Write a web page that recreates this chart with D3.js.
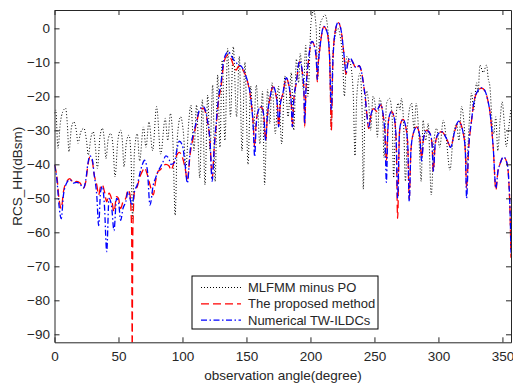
<!DOCTYPE html>
<html>
<head>
<meta charset="utf-8">
<script src="https://cdn.jsdelivr.net/npm/d3@7/dist/d3.min.js"></script>
<style>
  body { margin: 0; background: #fff; }
  text { font-family: "Liberation Sans", Arial, sans-serif; fill: #262626; }
</style>
</head>
<body>
<script>
const anglesRB = [
  0, 2, 3.5, 5.3, 7, 9.5, 12, 15, 17.3, 20,
  22.5, 24.5, 26, 27.7, 29.5, 31, 33, 34.5, 36, 37.4,
  39, 40.8, 42.6, 44.5, 46.5, 48.5, 50, 51.7, 53.5, 55.7,
  57.5, 59, 60.3, 60.7, 61.2, 62.5, 64.7, 66.8, 68.7, 70.3,
  72.5, 74.6, 77.2, 79, 81, 82.4, 84.5, 87, 89.5, 91,
  93.6, 96, 97.5, 100, 102, 103.8, 106, 109.2, 111.5, 113.2,
  116.3, 118.5, 119.7, 121.5, 123.2, 124.8, 126.5, 128.3, 130.1, 132,
  134, 135.8, 138, 140.5, 142, 143.4, 145.5, 147.3, 149.5, 151.2,
  153.8, 155.3, 156.4, 157.5, 159, 161.6, 163.5, 165, 166.5, 168.1,
  170.7, 173.3, 174.4, 175.1, 176.3, 178.5, 181.1, 183.7, 185, 185.8,
  187, 188.9, 191.5, 194.1, 195, 195.4, 196.5, 198, 201.2, 203.8,
  204.7, 205.3, 206.2, 207.2, 210.5, 213.2, 215, 216.3, 217.5, 219.1,
  221.7, 224.3, 226, 227.8, 229.3, 230.9, 233.5, 235.5, 238, 240.5,
  241.3, 243, 244, 245.5, 247.5, 249.5, 252, 254.8, 257, 258.3,
  259.3, 260.5, 261.5, 263.4, 265.5, 267, 268.1, 269.5, 270.5, 272.3,
  274.5, 276, 277.2, 278.5, 280.3, 283, 285.3, 286.9, 288.5, 290.8,
  293.5, 295, 296, 297.5, 299.9, 302.5, 306.4, 309.5, 312.9, 315.8,
  319.4, 321, 322, 323.5, 325.9, 327.2, 329.8, 333.7, 336.5, 338.5,
  340.2, 342.8, 344.9, 346.5, 348, 350.9, 353.8, 355, 356, 356.7
];

const proposed = [
  -40.2, -44, -50, -53, -48, -45.1, -44.2, -45.5, -45, -45.5,
  -47, -45, -40.5, -37.8, -39, -43, -46, -49, -46.5, -46,
  -48, -51, -48.5, -50, -54, -49.5, -50, -53, -51, -50,
  -47.5, -49, -60, -95, -60, -48, -46.5, -43.6, -42, -41,
  -43, -46, -49, -45, -42, -41.7, -40.7, -40, -40.5, -41.7,
  -39.2, -37, -36.5, -38, -41, -44.6, -37, -30.8, -27, -24.3,
  -23.5, -25.5, -27.9, -33, -44.3, -35, -28, -21, -17.2, -11,
  -8.3, -7.9, -9, -11.5, -12.3, -11.3, -11, -12.3, -14, -16.2,
  -22, -28, -35, -28, -24.5, -23.1, -25.5, -32.9, -25, -21.1,
  -17.2, -20.1, -24, -28.9, -23, -19.1, -14.7, -18.1, -22, -28.9,
  -21, -16.2, -9.8, -14.2, -20, -29, -18, -11.3, -3.9, -6.4,
  -10, -15.7, -10, -6.4, 0.5, -1.5, -9.3, -30, -10, -1.5,
  1.7, -1.5, -7, -13.5, -10, -8.8, -10.3, -11.8, -11, -14,
  -16, -21, -25, -29.5, -25, -23.6, -24.5, -22.5, -26, -31,
  -39, -29, -26, -24.5, -26.5, -33, -55.9, -31, -28, -26.8,
  -29, -34, -50, -36, -31, -29, -31.5, -38, -32, -30,
  -31, -34, -42, -34, -31, -30.4, -32.5, -34.8, -30, -27.3,
  -30.9, -36, -47, -36, -27, -23, -19, -17.6, -18.5, -21,
  -24.5, -35, -47.6, -42, -40, -37.8, -40, -45, -55, -67.5
];

const numerical = [
  -40.2, -45, -52, -56, -49, -45.5, -44.5, -45.5, -45.3, -45.8,
  -47, -44.5, -40, -37.5, -38.5, -43, -49, -58, -48, -46.5,
  -52, -65.7, -50, -52, -59.5, -50, -51, -56.5, -53, -51,
  -48, -50, -52, -51.5, -51, -48, -46, -42.5, -40, -38.8,
  -41.5, -52, -46, -44, -42, -41, -39.5, -37.5, -38.5, -40,
  -39.5, -35, -33.2, -34.5, -40, -45.5, -36, -30, -26.5, -24,
  -23, -25, -27.5, -33, -45, -35, -27, -20, -16, -10,
  -7.5, -6.9, -8, -9.5, -10, -10.8, -11, -12, -14, -16,
  -22, -29, -37.8, -29, -24.5, -23, -25.5, -33, -25, -21,
  -17, -20, -24, -29, -23, -19, -14.5, -18, -22, -29,
  -21, -16, -9.6, -14, -20, -28, -18, -11, -3.8, -6.3,
  -10, -15, -10, -6.3, 0.6, -1.4, -9, -24, -10, -1.5,
  1.8, -1.4, -7, -13, -10, -8.7, -10.3, -11.5, -11, -14,
  -16, -21, -25, -29, -25, -23.6, -24, -22.3, -26, -32,
  -45.3, -30, -26, -24.5, -26.5, -33, -50, -31, -28, -26.8,
  -29, -34, -51, -36, -31, -29, -31.5, -39, -32, -30,
  -31, -34, -42, -34, -31, -30.4, -32.5, -35, -30, -27.3,
  -30.9, -36, -50, -36, -27, -23, -19, -17.5, -18.5, -21,
  -24.5, -35, -47, -42, -40, -37.8, -40, -45, -54, -66
];

// MLFMM minus PO reference curve
const anglesML = [
  0, 1, 2.7, 4.5, 6.5, 8.7, 10, 11.3, 13.3, 15.2,
  17, 18.4, 20.5, 23, 25, 26.4, 28.5, 30.3, 32, 33.5,
  35.5, 37.4, 39, 40.2, 42, 43.9, 45.8, 47.3, 49.5, 51.7,
  53, 54.3, 56.2, 58.2, 59.8, 61, 62.5, 64.7, 66.5, 69.5,
  71.5, 73.8, 76.7, 79.8, 83, 86.5, 88.5, 90.5, 92.5, 94.3,
  96, 98.5, 100.8, 102.7, 104.8, 106.6, 109, 111, 113.5, 115.5,
  117.6, 119.7, 121.5, 123.6, 125.5, 127.5, 129.3, 131, 133.2, 135.3,
  137.5, 139.7, 142.3, 144.4, 146.5, 148.8, 151.2, 153.3, 155.5, 157.7,
  160.5, 162.5, 164.2, 166.5, 168.2, 170, 172.5, 175, 177.5, 180,
  182.5, 185, 187, 189, 190.8, 192, 194.5, 196.3, 198, 200.5,
  202.5, 204.5, 205.5, 207.5, 209.5, 211.3, 213.5, 215, 216.3, 217.5,
  219.5, 221.5, 223.5, 225, 226.5, 228.3, 230.5, 232, 233.5, 234.8,
  236.2, 238.7, 240.2, 241.3, 242.5, 243.9, 245.5, 247, 248.9, 251,
  252.3, 254, 256.3, 257.5, 259.5, 261.9, 263.8, 265, 266.5, 268.5,
  270, 271, 272.8, 274.2, 276, 279, 281, 282.6, 284.5, 286.5,
  288, 290, 292, 294.4, 296.5, 298.6, 301, 303.8, 306, 309,
  311.5, 314.2, 316, 318.1, 320, 322, 324, 325.9, 327.5, 329.8,
  331, 332.4, 335, 337.6, 339, 340.2, 342, 343.3, 344.8, 346.4,
  348.2, 349.8, 351.5, 353, 355, 356.7
];

const mlfmm = [
  -25, -24, -35.3, -28, -24.5, -23.5, -28, -36.3, -29, -27.5,
  -30, -33.8, -30.5, -29.4, -33, -37.3, -32, -30.4, -35, -41.2,
  -32, -29.4, -33, -38.3, -32.5, -30.9, -35, -43.7, -33, -29.9,
  -33, -40.7, -33.5, -31.4, -38, -56, -36, -31, -39, -29,
  -35, -27.5, -36, -23, -37, -26.5, -33, -25, -33, -55,
  -32, -26, -31, -41, -28, -22.6, -36, -22.5, -44, -21,
  -46, -19.6, -36, -16.7, -45, -13.7, -35, -9.3, -33, -5.9,
  -26, -5.4, -26, -8.3, -36, -10, -40, -17, -30, -16.7,
  -34, -18.5, -46, -18, -28, -16, -31, -17, -34, -14,
  -26, -13, -30, -9, -16, -7.4, -18, -5, -20, 2,
  5.2, 0, -15, 1, 3, 4, 0, -8, -30, -8,
  -2, 0, -3, -8, -20, -8.3, -9.5, -12, -20, -37.5,
  -20, -13.2, -22, -47.3, -25, -18.4, -22, -30, -20, -24,
  -32, -20.6, -25, -38, -22, -20.6, -26, -44, -28, -22,
  -24, -20.6, -28, -45, -28, -22, -30, -22, -30, -45,
  -27, -33, -28, -49, -33, -29.4, -35, -27, -32, -41.7,
  -32, -28, -33, -23, -28, -40, -28, -19, -24, -16,
  -19, -10.8, -13, -10.8, -15, -17, -28, -31, -26, -36,
  -27, -21.6, -28, -34.8, -29, -23.5
];

const xTicks = [0, 50, 100, 150, 200, 250, 300, 350];
const yTicks = [-90, -80, -70, -60, -50, -40, -30, -20, -10, 0];
const legendNames = ["MLFMM minus PO", "The proposed method", "Numerical TW-ILDCs"];

const width = 513, height = 384;
const plotLeft = 54.5, plotRight = 511, plotTop = 10, plotBottom = 342.3;
const axisColor = "#262626";

const svg = d3.select("body").append("svg")
  .attr("width", width)
  .attr("height", height);

const x = d3.scaleLinear().domain([0, 356.7]).range([plotLeft, plotRight]);
const y = d3.scaleLinear().domain([-92.35, 5.4]).range([plotBottom, plotTop]);

svg.append("defs").append("clipPath").attr("id", "plotclip")
  .append("rect")
  .attr("x", plotLeft).attr("y", plotTop)
  .attr("width", plotRight - plotLeft).attr("height", plotBottom - plotTop);

const plot = svg.append("g").attr("clip-path", "url(#plotclip)");

const line = d3.line()
  .x(d => x(d[0]))
  .y(d => y(d[1]))
  .curve(d3.curveMonotoneX);

const series = [
  { name: legendNames[0], pts: d3.zip(anglesML, mlfmm), color: "#000", dash: "1,2", w: 1 },
  { name: legendNames[1], pts: d3.zip(anglesRB, proposed), color: "#ff0000", dash: "8,4", w: 1.3 },
  { name: legendNames[2], pts: d3.zip(anglesRB, numerical), color: "#0000ff", dash: "6,2.5,1.5,2.5", w: 1.3 }
];

plot.selectAll("path.series")
  .data(series)
  .join("path")
  .attr("class", "series")
  .attr("d", d => line(d.pts))
  .attr("fill", "none")
  .attr("stroke", d => d.color)
  .attr("stroke-width", d => d.w)
  .attr("stroke-dasharray", d => d.dash);

// axes, ticks pointing inward like MATLAB
function styleAxis(g) {
  g.selectAll("path").attr("stroke", axisColor);
  g.selectAll("line").attr("stroke", axisColor);
  g.selectAll("text").style("font-size", "13.5px").attr("fill", axisColor);
}

svg.append("g")
  .attr("transform", `translate(0,${plotBottom})`)
  .call(d3.axisBottom(x).tickValues(xTicks).tickSizeInner(-5).tickSizeOuter(0).tickPadding(9))
  .call(styleAxis);

svg.append("g")
  .attr("transform", `translate(0,${plotTop})`)
  .call(d3.axisTop(x).tickValues(xTicks).tickSizeInner(-5).tickSizeOuter(0).tickFormat(""))
  .call(styleAxis);

svg.append("g")
  .attr("transform", `translate(${plotLeft},0)`)
  .call(d3.axisLeft(y).tickValues(yTicks).tickSizeInner(-5).tickSizeOuter(0).tickPadding(4.5))
  .call(styleAxis);

svg.append("g")
  .attr("transform", `translate(${plotRight},0)`)
  .call(d3.axisRight(y).tickValues(yTicks).tickSizeInner(-5).tickSizeOuter(0).tickFormat(""))
  .call(styleAxis);

svg.selectAll(".domain").attr("stroke-width", 1);

// axis titles
svg.append("text")
  .attr("x", 283).attr("y", 380)
  .attr("text-anchor", "middle")
  .style("font-size", "13.5px")
  .text("observation angle(degree)");

svg.append("text")
  .attr("transform", `translate(22,${(plotTop + plotBottom) / 2}) rotate(-90)`)
  .attr("text-anchor", "middle")
  .style("font-size", "13.5px")
  .text("RCS_HH(dBsm)");

// legend
const lg = svg.append("g");
lg.append("rect")
  .attr("x", 192).attr("y", 276)
  .attr("width", 186).attr("height", 53)
  .attr("fill", "#fff").attr("stroke", "#000").attr("stroke-width", 1);

const rows = lg.selectAll("g.row")
  .data(series)
  .join("g")
  .attr("class", "row")
  .attr("transform", (d, i) => `translate(0,${287.5 + i * 16.3})`);

rows.append("line")
  .attr("x1", 201).attr("x2", 241)
  .attr("stroke", d => d.color)
  .attr("stroke-width", d => d.w)
  .attr("stroke-dasharray", d => d.dash);

rows.append("text")
  .attr("x", 248).attr("dy", "0.35em")
  .style("font-size", "13px")
  .attr("fill", "#000")
  .text(d => d.name);
</script>
</body>
</html>
